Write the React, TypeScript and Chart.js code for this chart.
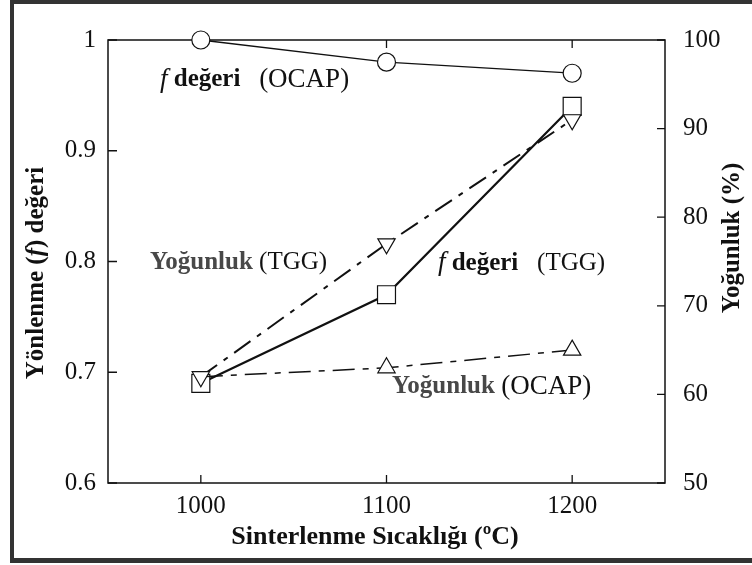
import { useEffect, useRef } from 'react';
import { Chart, registerables } from 'chart.js';

Chart.register(...registerables);

// Sintering temperature (°C)
const temperatures = [1000, 1100, 1200];
// Orientation factor f (left axis)
const fOcap = [1.0, 0.98, 0.97];
const fTgg = [0.69, 0.77, 0.94];
// Density % (right axis)
const densityTgg = [62, 77, 91];
const densityOcap = [62, 63, 65];

const xTicks = [1000, 1100, 1200];
const leftTicks = [0.6, 0.7, 0.8, 0.9, 1];
const rightTicks = [50, 60, 70, 80, 90, 100];

const SERIF = '"Liberation Serif", "Times New Roman", serif';
const INK = '#111';

type Seg = { t: string; font: string; color?: string };

const B = `bold 25px ${SERIF}`;
const R = `25px ${SERIF}`;
const RW = `27px ${SERIF}`;
const I = `italic 27px ${SERIF}`;
const IB = `italic bold 25px ${SERIF}`;

// In-plot labels, anchored in data units (x: °C, y: left-axis f value)
const notes: { x: number; y: number; segs: Seg[] }[] = [
  { x: 978, y: 0.964, segs: [{ t: 'f', font: I }, { t: ' ', font: R }, { t: 'değeri', font: B }, { t: '   ', font: R }, { t: '(OCAP)', font: RW }] },
  { x: 972.6, y: 0.7995, segs: [{ t: 'Yoğunluk', font: B, color: '#484848' }, { t: ' ', font: R }, { t: '(TGG)', font: R }] },
  { x: 1127.7, y: 0.7986, segs: [{ t: 'f', font: I }, { t: ' ', font: R }, { t: 'değeri', font: B }, { t: '   ', font: R }, { t: '(TGG)', font: R }] },
  { x: 1103, y: 0.6867, segs: [{ t: 'Yoğunluk', font: B, color: '#484848' }, { t: ' ', font: R }, { t: '(OCAP)', font: RW }] },
];

const xTitle: Seg[] = [{ t: 'Sinterlenme Sıcaklığı (ºC)', font: `bold 26px ${SERIF}` }];
const yTitle: Seg[] = [{ t: 'Yönlenme (', font: B }, { t: 'f', font: IB }, { t: ') değeri', font: B }];
const y1Title: Seg[] = [{ t: 'Yoğunluk (%)', font: B }];

function segWidth(ctx: CanvasRenderingContext2D, segs: Seg[]) {
  let w = 0;
  for (const s of segs) {
    ctx.font = s.font;
    w += ctx.measureText(s.t).width;
  }
  return w;
}

function drawSegs(ctx: CanvasRenderingContext2D, segs: Seg[], x: number, y: number) {
  let cx = x;
  ctx.textBaseline = 'middle';
  ctx.textAlign = 'left';
  for (const s of segs) {
    ctx.font = s.font;
    ctx.fillStyle = s.color || INK;
    ctx.fillText(s.t, cx, y);
    cx += ctx.measureText(s.t).width;
  }
}

const framePlugin = {
  id: 'frame',
  beforeDatasetsDraw(chart: any) {
    const ctx: CanvasRenderingContext2D = chart.ctx;
    const { left, right, top, bottom } = chart.chartArea;
    const sx = chart.scales.x;
    const sy = chart.scales.y;
    const sy1 = chart.scales.y1;
    ctx.save();
    // outer picture frame
    ctx.fillStyle = '#333';
    ctx.fillRect(10, 0, 742, 4);
    ctx.fillRect(10, 0, 4, 563);
    ctx.fillRect(10, 558, 742, 5);
    // plot box
    ctx.strokeStyle = INK;
    ctx.lineWidth = 1.5;
    ctx.strokeRect(left, top, right - left, bottom - top);
    // inward tick marks
    ctx.lineWidth = 1.3;
    ctx.beginPath();
    for (const v of xTicks) {
      const px = sx.getPixelForValue(v);
      ctx.moveTo(px, bottom);
      ctx.lineTo(px, bottom - 8);
      ctx.moveTo(px, top);
      ctx.lineTo(px, top + 8);
    }
    for (const v of leftTicks) {
      const py = sy.getPixelForValue(v);
      ctx.moveTo(left, py);
      ctx.lineTo(left + 9, py);
    }
    for (const v of rightTicks) {
      const py = sy1.getPixelForValue(v);
      ctx.moveTo(right, py);
      ctx.lineTo(right - 8, py);
    }
    ctx.stroke();
    ctx.restore();
  },
  afterDatasetsDraw(chart: any) {
    const ctx: CanvasRenderingContext2D = chart.ctx;
    const sx = chart.scales.x;
    const sy = chart.scales.y;
    ctx.save();
    for (const n of notes) {
      drawSegs(ctx, n.segs, sx.getPixelForValue(n.x), sy.getPixelForValue(n.y));
    }
    // axis titles
    const wx = segWidth(ctx, xTitle);
    drawSegs(ctx, xTitle, 375 - wx / 2, 537);

    ctx.save();
    ctx.translate(37, 273);
    ctx.rotate(-Math.PI / 2);
    const wy = segWidth(ctx, yTitle);
    drawSegs(ctx, yTitle, -wy / 2, 0);
    ctx.restore();

    ctx.save();
    ctx.translate(733, 238);
    ctx.rotate(-Math.PI / 2);
    const wy1 = segWidth(ctx, y1Title);
    drawSegs(ctx, y1Title, -wy1 / 2, 0);
    ctx.restore();

    ctx.restore();
  },
};

const pts = (ys: number[]) => temperatures.map((t, i) => ({ x: t, y: ys[i] }));

export default function App() {
  const ref = useRef<HTMLCanvasElement>(null);

  useEffect(() => {
    if (!ref.current) return;
    const common = {
      fill: false,
      borderColor: INK,
      pointBackgroundColor: '#fff',
      pointBorderColor: INK,
      pointBorderWidth: 1.2,
      clip: false as any,
      tension: 0,
    };
    const chart = new Chart(ref.current, {
      type: 'line',
      data: {
        datasets: [
          {
            ...common,
            label: 'f değeri (OCAP)',
            data: pts(fOcap),
            yAxisID: 'y',
            borderWidth: 1.3,
            pointStyle: 'circle',
            pointRadius: 9,
          },
          {
            ...common,
            label: 'Yoğunluk (TGG)',
            data: pts(densityTgg),
            yAxisID: 'y1',
            borderWidth: 2,
            borderDash: [20, 8, 5, 8],
            pointStyle: 'triangle',
            pointRotation: 180,
            pointRadius: 10,
          },
          {
            ...common,
            label: 'Yoğunluk (OCAP)',
            data: pts(densityOcap),
            yAxisID: 'y1',
            borderWidth: 1.5,
            borderDash: [22, 8, 6, 8],
            pointStyle: 'triangle',
            // first marker sits under the TGG markers at 1000 °C
            pointRadius: [0, 10, 10],
          },
          {
            ...common,
            label: 'f değeri (TGG)',
            data: pts(fTgg),
            yAxisID: 'y',
            borderWidth: 2.2,
            pointStyle: 'rect',
            pointRadius: 12.7,
          },
        ],
      },
      options: {
        animation: false,
        responsive: false,
        maintainAspectRatio: false,
        layout: { padding: { top: 40, left: 0, right: 0, bottom: 0 } },
        plugins: { legend: { display: false }, tooltip: { enabled: false } },
        scales: {
          x: {
            type: 'linear',
            min: 950,
            max: 1250,
            grid: { display: false, drawTicks: false },
            border: { display: false },
            afterBuildTicks: (s: any) => {
              s.ticks = xTicks.map((v) => ({ value: v }));
            },
            afterFit: (s: any) => {
              s.height = 82;
            },
            ticks: {
              padding: 8,
              color: INK,
              font: { family: SERIF, size: 25 },
              callback: (v: any) => String(v),
            },
          },
          y: {
            type: 'linear',
            position: 'left',
            min: 0.6,
            max: 1,
            grid: { display: false, drawTicks: false },
            border: { display: false },
            afterBuildTicks: (s: any) => {
              s.ticks = leftTicks.map((v) => ({ value: v }));
            },
            afterFit: (s: any) => {
              s.width = 108;
            },
            ticks: {
              padding: 12,
              color: INK,
              font: { family: SERIF, size: 25 },
              callback: (v: any) => (Number(v) === 1 ? '1' : Number(v).toFixed(1)),
            },
          },
          y1: {
            type: 'linear',
            position: 'right',
            min: 50,
            max: 100,
            grid: { display: false, drawTicks: false },
            border: { display: false },
            afterBuildTicks: (s: any) => {
              s.ticks = rightTicks.map((v) => ({ value: v }));
            },
            afterFit: (s: any) => {
              s.width = 87;
            },
            ticks: {
              padding: 18,
              color: INK,
              font: { family: SERIF, size: 25 },
              callback: (v: any) => String(v),
            },
          },
        },
      },
      plugins: [framePlugin],
    } as any);
    return () => chart.destroy();
  }, []);

  return (
    <div style={{ position: 'fixed', left: 0, top: 0, width: 752, height: 565, background: '#fff' }}>
      <canvas ref={ref} width={752} height={565} style={{ display: 'block' }} />
    </div>
  );
}
